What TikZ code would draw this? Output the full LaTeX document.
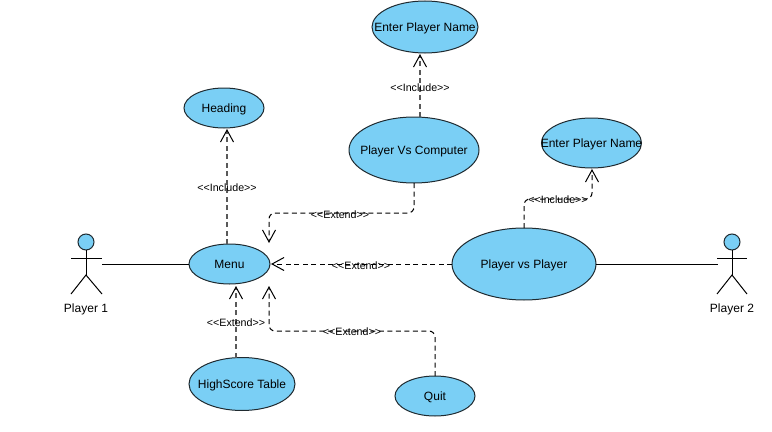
\documentclass[tikz,border=0pt]{standalone}
\usepackage{fontspec}
\setmainfont{Liberation Sans}
\usetikzlibrary{shapes.geometric,arrows.meta}
\definecolor{ucfill}{HTML}{7ACFF5}
\definecolor{ucline}{HTML}{1F2A30}
\def\px{0.75pt}
\newcommand{\zerotext}[1]{\makebox[0pt][c]{\raisebox{0pt}[\height][0pt]{#1}}}
\tikzset{
  usecase/.style n args={2}{ellipse,draw=ucline,fill=ucfill,line width=1*\px,inner sep=0pt,outer sep=0pt,
    minimum width=#1*\px,minimum height=#2*\px,font=\fontsize{9pt}{10pt}\selectfont},
  actorhead/.style={circle,draw=ucline,fill=ucfill,line width=1*\px,inner sep=0pt,outer sep=0pt,minimum size=16*\px},
  actorname/.style={inner sep=0pt,font=\fontsize{9pt}{10pt}\selectfont},
  stick/.style={draw=black,line width=1*\px},
  assoc/.style={draw=black,line width=1*\px},
  relation/.style={draw=black,line width=1*\px,dash pattern=on 5*\px off 3.5*\px,rounded corners=6*\px,
    -{Straight Barb[length=12*\px,width=13*\px,line width=1*\px]}},
  relgrey/.style={relation,draw=black!65,line width=1.6*\px,
    -{Straight Barb[length=12*\px,width=13*\px,line width=1*\px,color=black]}},
  rellabel/.style={inner sep=0pt,font=\fontsize{8pt}{9pt}\selectfont}
}
\begin{document}
\begin{tikzpicture}[x=0.75pt,y=-0.75pt]
\useasboundingbox (0,0) rectangle (772,432);
% use cases
\node[usecase={106}{52}] (enterA) at (425,27) {\zerotext{Enter Player Name}};
\node[usecase={80}{40}] (heading) at (224,108) {\zerotext{Heading}};
\node[usecase={130}{66}] (pvc) at (414,150) {\zerotext{Player Vs Computer}};
\node[usecase={100}{50}] (enterB) at (591.5,143) {\zerotext{Enter Player Name}};
\node[usecase={81}{40}] (menu) at (229.5,264) {\zerotext{Menu}};
\node[usecase={144}{72}] (pvp) at (524,264) {\zerotext{Player vs Player}};
\node[usecase={106}{53}] (score) at (242,384) {\zerotext{HighScore Table}};
\node[usecase={80}{40}] (quit) at (435,396) {\zerotext{Quit}};
% actors
\node[actorhead] (headA) at (86,242) {};
\node[actorname] (nameA) at (86,309) {Player 1};
\coordinate (hipA) at (86,275);
\coordinate (handA) at (102,264);
\draw[stick] (headA.south) -- (hipA);
\draw[stick] (71,258) -- (102,258);
\draw[stick] (71,294) -- (hipA) -- (102,294);
\node[actorhead] (headB) at (732,242) {};
\node[actorname] (nameB) at (732,309) {Player 2};
\coordinate (hipB) at (732,275);
\coordinate (handB) at (718,264);
\draw[stick] (headB.south) -- (hipB);
\draw[stick] (717,258) -- (747,258);
\draw[stick] (717,294) -- (hipB) -- (747,294);
% associations
\draw[assoc] (handA) -- (menu.west);
\draw[assoc] (pvp.east) -- (handB);
% bend and end points
\coordinate (menuTop) at (269,243);
\coordinate (menuBot) at (269,286);
\coordinate (menuRight) at (271,264);
\coordinate (bendPvc) at (269,213);
\coordinate (bendQuit) at (269,331);
\coordinate (bendPvp) at (592,199);
\coordinate (enterBtip) at (592,169);
\coordinate (enterAtip) at (420,54);
\coordinate (headingTip) at (227,129);
\coordinate (scoreTip) at (236,286);
% relations
\draw[relgrey] (headingTip |- menu.north) -- (headingTip);
\draw[relgrey] (enterAtip |- pvc.north) -- (enterAtip);
\draw[relgrey] (scoreTip |- score.north) -- (scoreTip);
\draw[relation] (pvc.south) |- (bendPvc) -- (menuTop);
\draw[relation] (pvp.west) -- (menuRight);
\draw[relation] (quit.north) |- (bendQuit) -- (menuBot);
\draw[relation] (pvp.north) |- (bendPvp) -- (enterBtip);
% labels
\node[rellabel] (lblA) at (420,87.5) {<{}<Include>{}>};
\node[rellabel] (lblB) at (227,187.5) {<{}<Include>{}>};
\node[rellabel] (lblC) at (340,214.5) {<{}<Extend>{}>};
\node[rellabel] (lblD) at (361,265.5) {<{}<Extend>{}>};
\node[rellabel] (lblE) at (236,322.5) {<{}<Extend>{}>};
\node[rellabel] (lblF) at (352,331.5) {<{}<Extend>{}>};
\node[rellabel] (lblG) at (558,199.5) {<{}<Include>{}>};
\end{tikzpicture}
\end{document}
